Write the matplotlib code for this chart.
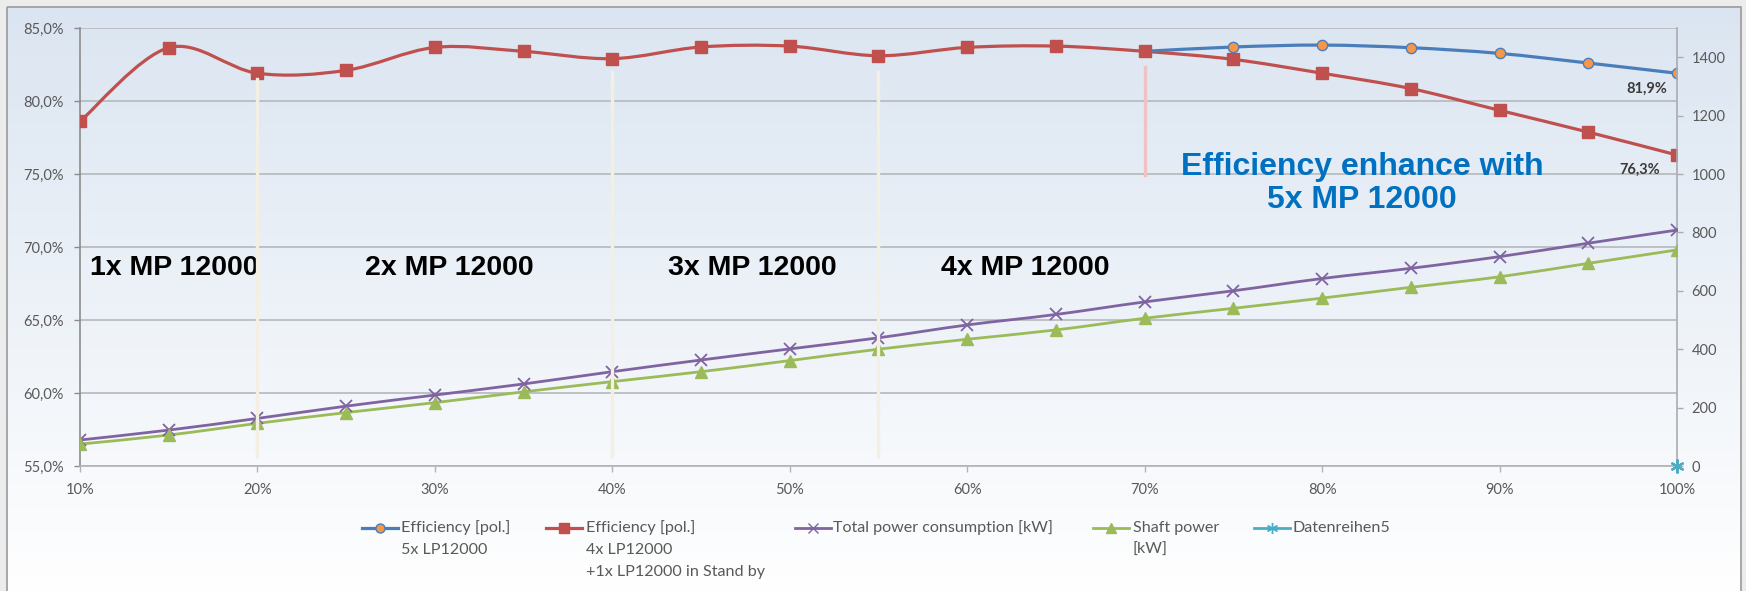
import numpy as np
import matplotlib
matplotlib.use("Agg")
import matplotlib.pyplot as plt
from matplotlib.path import Path
from matplotlib.patches import PathPatch, Rectangle
from matplotlib.lines import Line2D
from matplotlib.ticker import FuncFormatter, MultipleLocator

# ---------------- data ----------------
load_pct = [10, 15, 20, 25, 30, 35, 40, 45, 50, 55, 60, 65, 70, 75, 80, 85, 90, 95, 100]
eff_4x = [78.6, 83.65, 81.9, 82.1, 83.67, 83.4, 82.9, 83.7, 83.76, 83.1,
          83.67, 83.76, 83.4, 82.85, 81.9, 80.85, 79.36, 77.87, 76.3]
load_pct_5x = [70, 75, 80, 85, 90, 95, 100]
eff_5x = [83.4, 83.7, 83.83, 83.65, 83.26, 82.6, 81.9]
total_power = [89, 123, 163, 205, 243, 281, 323, 363, 401, 439,
               483, 519, 562, 600, 642, 677, 717, 763, 808]
shaft_power = [75, 106, 146, 183, 217, 254, 289, 323, 361, 400,
               434, 466, 506, 540, 575, 612, 648, 694, 740]
series5_x = [100]
series5_y = [0]

stage_labels = ["1x MP 12000", "2x MP 12000", "3x MP 12000", "4x MP 12000"]
stage_label_x = [10.55, 26.05, 43.15, 58.5]
stage_dividers = [20, 40, 55]
legend_labels = [
    ["Efficiency [pol.]", "5x LP12000"],
    ["Efficiency [pol.]", "4x LP12000", "+1x LP12000 in Stand by"],
    ["Total power consumption [kW]"],
    ["Shaft power", "[kW]"],
    ["Datenreihen5"],
]

# ---------------- style ----------------
W, H = 1746, 591
C_RED, C_BLUE, C_ORANGE = "#c0504d", "#4a7ebb", "#f79646"
C_PURPLE, C_GREEN, C_CYAN = "#8064a2", "#9bbb59", "#4bacc6"
C_TICK = "#595959"
C_GRID = "#b9bcc1"
C_SPINE = "#8c8c8c"
CAL = ["Lato", "DejaVu Sans"]
ARIAL = ["Liberation Sans", "DejaVu Sans"]

fig = plt.figure(figsize=(W / 100, H / 100), dpi=100)
fig.patch.set_facecolor("#ececec")

# chart-area background: vertical gradient with a thin frame (pixel coordinates)
bg = fig.add_axes([0, 0, 1, 1], zorder=-5)
bg.set_xlim(0, W)
bg.set_ylim(H, 0)
bg.axis("off")
top_c = np.array([219, 229, 241]) / 255
bot_c = np.array([255, 255, 255]) / 255
t = np.linspace(0, 1, 256)[:, None]
grad = (top_c[None, :] * (1 - t) + bot_c[None, :] * t)[:, None, :]
bg.imshow(grad, extent=(7, 1741, 600, 7), aspect="auto", interpolation="bilinear", zorder=0)
bg.add_patch(Rectangle((7, 7), 1734, 600, fill=False, ec="#9a9a9a", lw=1.2, zorder=1))

# main axes
ax = fig.add_axes([80 / W, 1 - 466 / H, (1677 - 80) / W, (466 - 28) / H])
ax.patch.set_visible(False)
ax2 = ax.twinx()
ax2.patch.set_visible(False)

ax.set_xlim(10, 100)
ax.set_ylim(55, 85)
ax2.set_ylim(0, 1500)


def smooth_path(xs, ys):
    pts = np.column_stack([xs, ys]).astype(float)
    n = len(pts)
    verts = [pts[0]]
    codes = [Path.MOVETO]
    for i in range(n - 1):
        p0 = pts[i - 1] if i > 0 else pts[i]
        p1, p2 = pts[i], pts[i + 1]
        p3 = pts[i + 2] if i + 2 < n else pts[i + 1]
        verts += [p1 + (p2 - p0) / 6, p2 - (p3 - p1) / 6, p2]
        codes += [Path.CURVE4] * 3
    return Path(verts, codes)


def smooth_line(axis, xs, ys, color, lw, z):
    axis.add_patch(PathPatch(smooth_path(xs, ys), fill=False, ec=color, lw=lw,
                             capstyle="round", joinstyle="round", zorder=z))


# efficiency series (left axis)
smooth_line(ax, load_pct, eff_4x, C_RED, 2.3, 3)
smooth_line(ax, load_pct_5x, eff_5x, C_BLUE, 2.3, 4)
ax.plot(load_pct, eff_4x, ls="none", marker="s", ms=8.3, color=C_RED, zorder=5)
ax.plot(load_pct_5x[1:], eff_5x[1:], ls="none", marker="o", ms=7.4, mfc=C_ORANGE,
        mec=C_BLUE, mew=1.0, zorder=6)

# power series (right axis)
smooth_line(ax2, load_pct, total_power, C_PURPLE, 2.0, 3)
smooth_line(ax2, load_pct, shaft_power, C_GREEN, 2.0, 3)
ax2.plot(load_pct, total_power, ls="none", marker="x", ms=8.5, mew=1.3, color=C_PURPLE, zorder=5)
ax2.plot(load_pct, shaft_power, ls="none", marker="^", ms=8.5, color=C_GREEN, zorder=5)
ax2.plot(series5_x, series5_y, ls="none", marker=(6, 2, 0), ms=10, mew=1.6,
         color=C_CYAN, zorder=7, clip_on=False)

# value labels at the end of the efficiency curves
def pct_label(v):
    return f"{v:.1f}".replace(".", ",") + "%"

ax.text(load_pct_5x[-1] - 1.7, eff_5x[-1] - 1.05, pct_label(eff_5x[-1]), ha="center", va="center",
        fontsize=10.5, fontweight="bold", color="#3a3a3a", family=CAL, zorder=8)
ax.text(load_pct[-1] - 2.1, eff_4x[-1] - 0.98, pct_label(eff_4x[-1]), ha="center", va="center",
        fontsize=10.5, fontweight="bold", color="#3a3a3a", family=CAL, zorder=8)

# stage dividers, drawn over all series
for xv in stage_dividers:
    ax2.add_line(Line2D([xv, xv], [55.7, 81.5 if xv == 20 else 82.0], transform=ax.transData,
                        color="#f3f0e3", lw=2.4, zorder=10))
ax2.add_line(Line2D([70, 70], [74.9, 82.3], transform=ax.transData,
                    color="#f0c2c2", lw=2.4, zorder=10))
ax2.set_ylim(0, 1500)

# stage annotations
for lab, xv in zip(stage_labels, stage_label_x):
    ax.text(xv, 68.55, lab, ha="left", va="center", fontsize=20.5, fontweight="bold",
            color="black", family=ARIAL, zorder=9)
ax.text(82.25, 74.35, "Efficiency enhance with\n5x MP 12000", ha="center", va="center",
        fontsize=23, fontweight="bold", color="#0070c0", family=ARIAL, linespacing=1.12, zorder=9)

# axes styling
ax.yaxis.set_major_locator(MultipleLocator(5))
ax.yaxis.set_major_formatter(FuncFormatter(lambda v, p: f"{v:.1f}".replace(".", ",") + "%"))
ax.xaxis.set_major_locator(MultipleLocator(10))
ax.xaxis.set_major_formatter(FuncFormatter(lambda v, p: f"{v:.0f}%"))
ax2.set_yticks(np.arange(0, 1401, 200))

ax.grid(axis="y", color=C_GRID, lw=1.3, zorder=0)
ax.set_axisbelow(True)
for a in (ax, ax2):
    for s in a.spines.values():
        s.set_visible(False)
ax.spines["left"].set_visible(True)
ax.spines["left"].set_color(C_SPINE)
ax.spines["bottom"].set_visible(True)
ax.spines["bottom"].set_color("#b0b3b8")
ax2.spines["right"].set_visible(True)
ax2.spines["right"].set_color("#a9acb1")
for s in (ax.spines["left"], ax.spines["bottom"], ax2.spines["right"]):
    s.set_linewidth(1.2)

ax.tick_params(axis="y", direction="out", length=4.5, width=1, color=C_SPINE, pad=7,
               labelsize=10.5, labelcolor=C_TICK)
ax.tick_params(axis="x", direction="out", length=4, width=1, color="#b0b3b8", pad=8,
               labelsize=10.5, labelcolor=C_TICK)
ax2.tick_params(axis="y", direction="out", length=4.5, width=1, color="#a9acb1", pad=6,
                labelsize=10.5, labelcolor=C_TICK)
for lab in ax.get_xticklabels() + ax.get_yticklabels() + ax2.get_yticklabels():
    lab.set_family(CAL)

# legend (drawn in pixel coordinates below the plot)
legend_handles = [
    dict(color=C_BLUE, marker="o", mfc=C_ORANGE, mec=C_BLUE, ms=6.5, lw=2.3),
    dict(color=C_RED, marker="s", mfc=C_RED, mec=C_RED, ms=7.5, lw=2.3),
    dict(color=C_PURPLE, marker="x", mfc=C_PURPLE, mec=C_PURPLE, ms=7, lw=2.0),
    dict(color=C_GREEN, marker="^", mfc=C_GREEN, mec=C_GREEN, ms=7, lw=2.0),
    dict(color=C_CYAN, marker=(6, 2, 0), mfc=C_CYAN, mec=C_CYAN, ms=8, lw=2.0),
]
handle_x0 = [362, 546, 795, 1093, 1254]
text_x0 = [401, 586, 833, 1133, 1293]
leg_y0, leg_dy, handle_len = 528, 22, 36
for hx, tx, style, lines in zip(handle_x0, text_x0, legend_handles, legend_labels):
    bg.add_line(Line2D([hx, hx + handle_len], [leg_y0, leg_y0], color=style["color"],
                       lw=style["lw"], zorder=3, clip_on=False))
    bg.plot([hx + handle_len / 2], [leg_y0], ls="none", marker=style["marker"], ms=style["ms"],
            mfc=style["mfc"], mec=style["mec"], mew=1.0, zorder=4, clip_on=False)
    for k, line in enumerate(lines):
        bg.text(tx, leg_y0 + k * leg_dy, line, ha="left", va="center", fontsize=11.6,
                color=C_TICK, family=CAL, zorder=4)

fig.savefig("out.png", dpi=100, facecolor=fig.get_facecolor())
